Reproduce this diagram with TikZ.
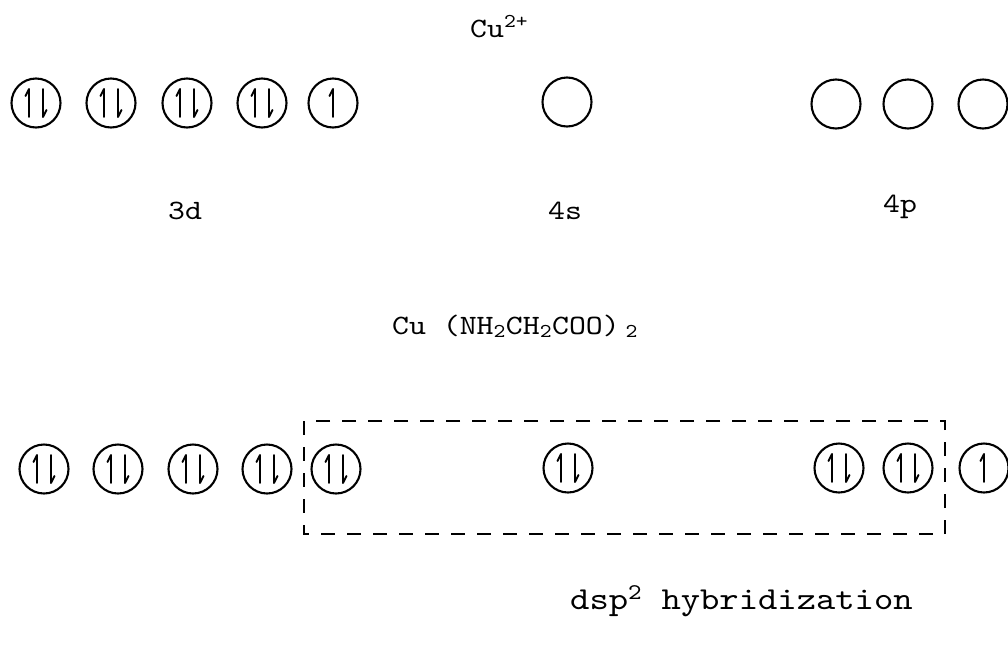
\documentclass[tikz,border=0pt]{standalone}
\usepackage{fontspec}
\newfontfamily\tw{lmmono10-regular.otf}[FakeStretch=1.15]
\begin{document}
\begin{tikzpicture}[x=1pt,y=-1pt,
  orb/.style={draw, circle, line width=2.1pt, minimum size=49pt, inner sep=0pt},
  spin/.style={line width=1.9pt, line cap=round, line join=round},
  lbl/.style={font=\tw\fontsize{28}{30}\selectfont, inner sep=0pt, anchor=base},
  biglbl/.style={font=\tw\fontsize{32}{34}\selectfont, inner sep=0pt, anchor=base west},
  dashbox/.style={line width=2pt, dash pattern=on 14pt off 12pt},
  pics/epair/.style={code={
    \draw[spin] (-7,14) -- (-7,-14) -- (-10.5,-7);
    \draw[spin] (7,-14) -- (7,14) -- (10.5,7);
  }},
  pics/esingle/.style={code={
    \draw[spin] (0,14) -- (0,-14) -- (-3.5,-7);
  }}
]
\useasboundingbox[fill=white] (0,0) rectangle (1008,651);

% ---- Cu2+ ion ----
\node[lbl, anchor=base west] (cuion) at (470,37) {Cu\textsuperscript{2+}};

\node[orb] (a1) at (36,103) {};
\node[orb] (a2) at (111,103) {};
\node[orb] (a3) at (187,103) {};
\node[orb] (a4) at (262,103) {};
\node[orb] (a5) at (333,103) {};
\node[orb] (as) at (567,102) {};
\node[orb] (ap1) at (836,104) {};
\node[orb] (ap2) at (908,104) {};
\node[orb] (ap3) at (983,104) {};

\pic at (a1) {epair};
\pic at (a2) {epair};
\pic at (a3) {epair};
\pic at (a4) {epair};
\pic at (a5) {esingle};

\node[lbl] (l3d) at (185,219) {3d};
\node[lbl] (l4s) at (565,219) {4s};
\node[lbl] (l4p) at (900,212) {4p};

% ---- glycinato complex ----
\node[lbl, anchor=base west] (cx) at (392,334)
  {Cu (NH\textsubscript{2}CH\textsubscript{2}COO)\kern 6pt\textsubscript{2}};

\node[orb] (b1) at (44,469) {};
\node[orb] (b2) at (118,469) {};
\node[orb] (b3) at (193,469) {};
\node[orb] (b4) at (267,469) {};
\node[orb] (b5) at (336,469) {};
\node[orb] (bs) at (568,468) {};
\node[orb] (bp1) at (839,468) {};
\node[orb] (bp2) at (908,468) {};
\node[orb] (bp3) at (984,468) {};

\pic at (b1) {epair};
\pic at (b2) {epair};
\pic at (b3) {epair};
\pic at (b4) {epair};
\pic at (b5) {epair};
\pic at (bs) {epair};
\pic at (bp1) {epair};
\pic at (bp2) {epair};
\pic at (bp3) {esingle};

% hybrid orbitals enclosed
\coordinate (boxnw) at (304,421);
\coordinate (boxse) at (945,534);
\draw[dashbox] (boxnw) rectangle (boxse);

\node[biglbl] (hyb) at (570,609) {dsp\textsuperscript{2} hybridization};
\end{tikzpicture}
\end{document}
